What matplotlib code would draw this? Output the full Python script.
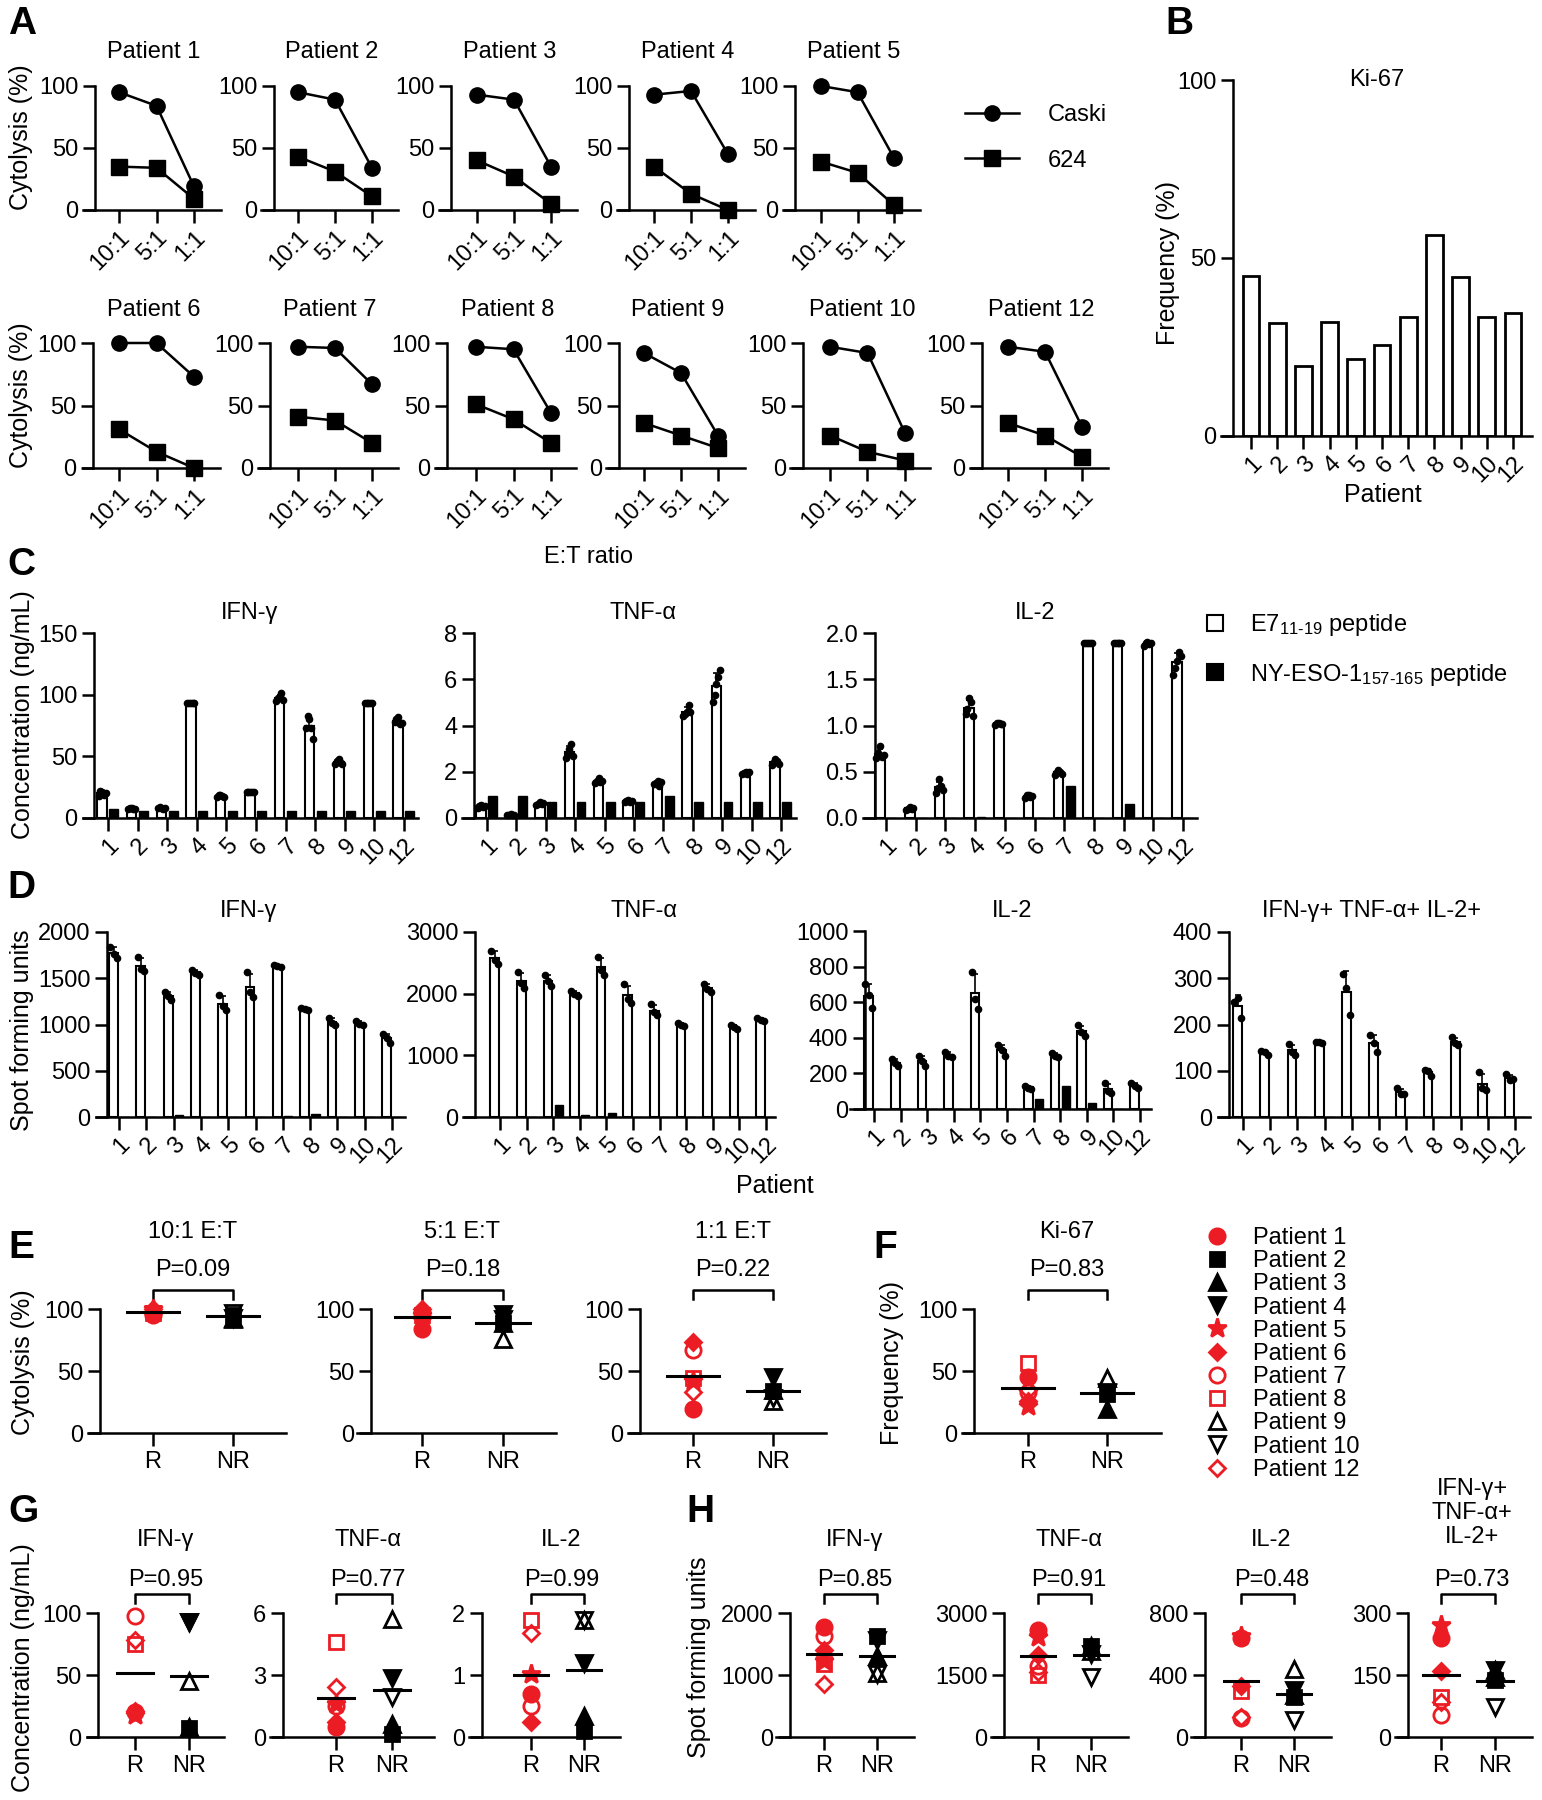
import numpy as np
import matplotlib
matplotlib.use("Agg")
import matplotlib.pyplot as plt
from matplotlib.lines import Line2D

W, H = 1542, 1800
RED = "#ec1c24"
FS = 17

plt.rcParams["font.family"] = ["Liberation Sans", "DejaVu Sans"]
plt.rcParams["mathtext.default"] = "regular"
plt.rcParams["axes.linewidth"] = 1.8

# ---------- data ----------
PATIENTS = ["1", "2", "3", "4", "5", "6", "7", "8", "9", "10", "12"]
RATIOS = ["10:1", "5:1", "1:1"]
RESPONDER = [True, False, False, False, True, True, True, True, False, False, True]
MARKERS = ["o", "s", "^", "v", "*", "D", "o", "s", "^", "v", "D"]
FILLED = [True, True, True, True, True, True, False, False, False, False, False]

# cytolysis (%) at 10:1, 5:1, 1:1
CASKI = [[95, 84, 19], [95, 89, 34], [93, 89, 35], [93, 96, 45], [100, 95, 42],
         [100, 100, 73], [97, 96, 67], [97, 95, 44], [92, 76, 26], [97, 92, 28], [97, 93, 33]]
LINE624 = [[35, 34, 9], [43, 31, 11], [40, 27, 5], [35, 13, 0], [39, 30, 4],
           [31, 13, 0], [41, 38, 20], [51, 39, 20], [36, 26, 16], [26, 13, 6], [36, 26, 9]]

# Ki-67 frequency (%)
KI67 = [44.9, 31.8, 19.7, 32.0, 21.5, 25.7, 33.3, 56.4, 44.6, 33.3, 34.6]

# cytokine concentration (ng/mL), E7 replicates and NY-ESO-1 bar
C_IFNG_E7 = [[18, 22, 21, 19, 20], [7, 8, 8, 7, 7], [8, 9, 8, 7, 8], [93, 93, 93, 93, 93],
             [17, 19, 19, 18, 17], [21, 21, 21, 21, 21], [95, 97, 99, 101, 96],
             [73, 83, 80, 73, 64], [44, 46, 48, 45, 44], [93, 93, 93, 93, 93], [78, 80, 82, 76, 77]]
C_IFNG_NY = [7, 6, 6, 6, 6, 6, 6, 6, 6, 6, 6]
C_TNF_E7 = [[0.45, 0.50, 0.55, 0.48, 0.52], [0.12, 0.15, 0.18, 0.15, 0.14],
            [0.58, 0.62, 0.68, 0.60, 0.64], [2.6, 2.8, 3.0, 3.2, 2.7],
            [1.5, 1.6, 1.75, 1.55, 1.6], [0.70, 0.72, 0.78, 0.70, 0.74],
            [1.45, 1.5, 1.6, 1.4, 1.55], [4.4, 4.5, 4.6, 4.9, 4.6],
            [5.0, 5.3, 5.8, 6.1, 6.4], [1.9, 1.95, 2.0, 1.92, 1.98], [2.3, 2.4, 2.55, 2.45, 2.35]]
C_TNF_NY = [0.95, 0.95, 0.7, 0.7, 0.7, 0.7, 0.95, 0.7, 0.7, 0.7, 0.7]
C_IL2_E7 = [[0.65, 0.70, 0.78, 0.66, 0.68], [0.09, 0.10, 0.12, 0.10, 0.11],
            [0.27, 0.32, 0.42, 0.35, 0.30], [1.12, 1.18, 1.30, 1.25, 1.10],
            [1.01, 1.03, 1.03, 1.02, 1.02], [0.22, 0.25, 0.25, 0.23, 0.24],
            [0.47, 0.49, 0.52, 0.50, 0.48], [1.89, 1.89, 1.89, 1.89, 1.89],
            [1.89, 1.89, 1.89, 1.89, 1.89], [1.86, 1.89, 1.90, 1.88, 1.89],
            [1.55, 1.62, 1.70, 1.80, 1.75]]
C_IL2_NY = [0, 0, 0, 0.01, 0, 0, 0.35, 0, 0.15, 0, 0]

# ELISpot spot forming units, E7 replicates and NY-ESO-1 bar
D_IFNG_E7 = [[1840, 1760, 1720], [1730, 1600, 1580], [1350, 1310, 1260], [1590, 1560, 1540],
             [1320, 1200, 1160], [1570, 1350, 1300], [1640, 1630, 1620], [1180, 1170, 1160],
             [1070, 1020, 1000], [1040, 1010, 990], [900, 850, 800]]
D_IFNG_NY = [0, 0, 25, 0, 0, 0, 10, 30, 0, 0, 0]
D_TNF_E7 = [[2700, 2550, 2480], [2350, 2180, 2100], [2300, 2200, 2130], [2050, 2000, 1970],
            [2600, 2380, 2300], [2150, 1920, 1850], [1830, 1700, 1650], [1530, 1500, 1480],
            [2160, 2080, 2020], [1490, 1460, 1430], [1600, 1580, 1560]]
D_TNF_NY = [0, 0, 200, 30, 60, 0, 0, 0, 0, 0, 0]
D_IL2_E7 = [[700, 640, 570], [280, 260, 240], [300, 270, 240], [320, 300, 290],
            [770, 620, 560], [360, 330, 300], [130, 120, 115], [315, 295, 290],
            [470, 430, 410], [145, 100, 90], [145, 130, 120]]
D_IL2_NY = [0, 0, 0, 0, 0, 0, 55, 130, 35, 0, 0]
D_POLY_E7 = [[248, 258, 215], [142, 140, 135], [158, 140, 135], [163, 163, 160],
             [310, 280, 220], [178, 160, 140], [62, 50, 50], [102, 100, 88],
             [172, 160, 155], [97, 62, 58], [92, 80, 82]]
D_POLY_NY = [0, 0, 0, 0, 0, 0, 0, 0, 0, 0, 0]

fig = plt.figure(figsize=(W / 100, H / 100), dpi=100)


def px_axes(xs, ya, t0, t1, xe, yt, yb, n, ylim, yticks, ytl=None):
    # axes placed in pixel units: x-axis start, y-axis, first/last tick, x-axis end
    ax = fig.add_axes([xs / W, 1 - yb / H, (xe - xs) / W, (yb - yt) / H])
    k = (n - 1) / (t1 - t0)
    ax.set_xlim((xs - t0) * k, (xe - t0) * k)
    ax.set_ylim(*ylim)
    ax.spines["left"].set_position(("data", (ya - t0) * k))
    ax.spines["top"].set_visible(False)
    ax.spines["right"].set_visible(False)
    ax.set_yticks(yticks)
    if ytl is not None:
        ax.set_yticklabels(ytl)
    ax.set_xticks(np.arange(n))
    ax.tick_params(direction="out", length=9, width=1.8, labelsize=FS, pad=3)
    ax.patch.set_alpha(0)
    return ax


def txt(x, y, s, size=FS, **kw):
    kw.setdefault("ha", "center")
    kw.setdefault("va", "center")
    fig.text(x / W, 1 - y / H, s, fontsize=size, **kw)


def bar_panel(box, yt, yb, ylim, yticks, ytl, e7, ny):
    ax = px_axes(*box, yt, yb, 11, ylim, yticks, ytl)
    x = np.arange(11)
    means = np.array([np.mean(r) for r in e7])
    sds = np.array([np.std(r, ddof=1) for r in e7])
    ax.bar(x - 0.2, means, 0.32, color="white", edgecolor="k", lw=1.5, zorder=2)
    ax.bar(x + 0.2, ny, 0.3, color="k", edgecolor="k", lw=1.0, zorder=2)
    ax.errorbar(x - 0.2, means, yerr=[np.zeros(11), sds], fmt="none", ecolor="k",
                elinewidth=1.2, capsize=2.5, capthick=1.2, zorder=3)
    for i, reps in enumerate(e7):
        offs = np.linspace(-0.12, 0.12, len(reps))
        ax.plot(x[i] - 0.2 + offs, reps, "o", color="k", ms=4.5, zorder=4, clip_on=False)
    ax.set_xticklabels(PATIENTS, rotation=45, ha="right", rotation_mode="anchor")
    return ax


MSIZE = {"o": 11, "s": 10, "^": 11, "v": 11, "*": 14, "D": 8}


def marker_style(i):
    col = RED if RESPONDER[i] else "k"
    return dict(ls="none", marker=MARKERS[i], ms=MSIZE[MARKERS[i]],
                mfc=col if FILLED[i] else "none", mec=col, mew=2)


def scatter_panel(box, yt, yb, ylim, yticks, values):
    ax = px_axes(*box, yt, yb, 2, ylim, yticks)
    ax.set_xticklabels(["R", "NR"])
    ax.tick_params(axis="x", pad=4)
    for i, v in enumerate(values):
        g = 0 if RESPONDER[i] else 1
        ax.plot(g, v, clip_on=False, zorder=4, **marker_style(i))
    for g in (0, 1):
        vals = [v for i, v in enumerate(values) if RESPONDER[i] == (g == 0)]
        m = np.mean(vals)
        ax.plot([g - 0.33, g + 0.33], [m, m], color="k", lw=2.2, zorder=5, clip_on=False)
    top = ylim[1]
    ax.plot([0, 0, 1, 1], [top * 1.08, top * 1.15, top * 1.15, top * 1.08],
            color="k", lw=1.8, clip_on=False)
    return ax


# ---------- A ----------
A_TOP = [(83, 95, 119, 194, 221), (261, 274, 298, 372, 398), (439, 451, 477, 551, 577),
         (617, 629, 654, 728, 755), (783, 795, 821, 894, 920)]
A_BOT = [(83, 93, 119, 194, 220), (258, 270, 298, 372, 398), (435, 447, 476, 551, 576),
         (606, 619, 644, 718, 745), (790, 803, 830, 905, 930), (970, 982, 1008, 1082, 1108)]
rows = [(A_TOP, 86, 210, 52, [0, 1, 2, 3, 4]), (A_BOT, 343, 468, 310, [5, 6, 7, 8, 9, 10])]
for boxes, yt, yb, ty, idx in rows:
    for box, i in zip(boxes, idx):
        ax = px_axes(*box, yt, yb, 3, (0, 100), [0, 50, 100])
        ax.plot(range(3), CASKI[i], "-o", color="k", lw=1.8, ms=11, clip_on=False, zorder=3)
        ax.plot(range(3), LINE624[i], "-s", color="k", lw=1.8, ms=11, clip_on=False, zorder=3)
        ax.set_xticklabels(RATIOS, rotation=45, ha="right", rotation_mode="anchor")
        txt((box[0] + box[4]) / 2 + 2, ty, "Patient " + PATIENTS[i])
txt(21, 137, "Cytolysis (%)", size=18, rotation=90)
txt(21, 395, "Cytolysis (%)", size=18, rotation=90)
txt(589, 557, "E:T ratio")
a_handles = [Line2D([], [], color="k", lw=1.8, marker="o", ms=11),
             Line2D([], [], color="k", lw=1.8, marker="s", ms=11)]
fig.legend(a_handles, ["Caski", "624"], loc="upper left", bbox_to_anchor=(965 / W, 1 - 104 / H),
           frameon=False, fontsize=FS, handlelength=2.3, handletextpad=1.2, labelspacing=1.0,
           borderpad=0, borderaxespad=0)

# ---------- B ----------
ax = px_axes(1221, 1233, 1251, 1513, 1532, 80, 436, 11, (0, 100), [0, 50, 100])
ax.bar(np.arange(11), KI67, 0.64, color="white", edgecolor="k", lw=2)
ax.set_xticklabels(PATIENTS, rotation=45, ha="right", rotation_mode="anchor")
txt(1377, 80, "Ki-67")
txt(1383, 495, "Patient", size=18)
txt(1168, 263, "Frequency (%)", size=18, rotation=90)

# ---------- C ----------
bar_panel((83, 94, 108, 404, 418), 633, 818, (0, 150), [0, 50, 100, 150], None, C_IFNG_E7, C_IFNG_NY)
bar_panel((462, 474, 487, 781, 796), 633, 818, (0, 8), [0, 2, 4, 6, 8], None, C_TNF_E7, C_TNF_NY)
bar_panel((863, 875, 886, 1183, 1197), 633, 818, (0, 2), [0, 0.5, 1, 1.5, 2],
          ["0.0", "0.5", "1.0", "1.5", "2.0"], C_IL2_E7, C_IL2_NY)
txt(250, 613, "IFN-γ")
txt(643, 613, "TNF-α")
txt(1035, 613, "IL-2")
txt(23, 715, "Concentration (ng/mL)", size=18, rotation=90)
c_handles = [Line2D([], [], ls="none", marker="s", ms=12, mfc="white", mec="k", mew=1.5),
             Line2D([], [], ls="none", marker="s", ms=12, mfc="k", mec="k", mew=1.5)]
fig.legend(c_handles, ["E7$_{11\u201019}$ peptide", "NY-ESO-1$_{157\u2010165}$ peptide"],
           loc="upper left", bbox_to_anchor=(1203 / W, 1 - 612 / H), frameon=False, fontsize=FS,
           handlelength=1.0, handletextpad=1.0, labelspacing=1.0, borderpad=0, borderaxespad=0)

# ---------- D ----------
bar_panel((96, 107, 119, 392, 405), 932, 1117, (0, 2000), [0, 500, 1000, 1500, 2000], None,
          D_IFNG_E7, D_IFNG_NY)
bar_panel((463, 475, 500, 766, 775), 932, 1117, (0, 3000), [0, 1000, 2000, 3000], None,
          D_TNF_E7, D_TNF_NY)
bar_panel((850, 865, 874, 1140, 1151), 931, 1109, (0, 1000), [0, 200, 400, 600, 800, 1000], None,
          D_IL2_E7, D_IL2_NY)
bar_panel((1218, 1229, 1243, 1515, 1530), 932, 1117, (0, 400), [0, 100, 200, 300, 400], None,
          D_POLY_E7, D_POLY_NY)
txt(249, 911, "IFN-γ")
txt(644, 911, "TNF-α")
txt(1012, 911, "IL-2")
txt(1372, 911, "IFN-γ+ TNF-α+ IL-2+")
txt(22, 1030, "Spot forming units", size=18, rotation=90)
txt(775, 1186, "Patient", size=18)

# ---------- E / F ----------
E_BOXES = [(88, 100, 153, 233, 286), (357, 371, 422, 503, 556), (628, 640, 693, 773, 826)]
E_TITLES = ["10:1 E:T", "5:1 E:T", "1:1 E:T"]
E_P = ["P=0.09", "P=0.18", "P=0.22"]
for j, box in enumerate(E_BOXES):
    scatter_panel(box, 1309, 1433, (0, 100), [0, 50, 100], [row[j] for row in CASKI])
    cx = (box[2] + box[3]) / 2
    txt(cx, 1232, E_TITLES[j])
    txt(cx, 1270, E_P[j])
txt(23, 1362, "Cytolysis (%)", size=18, rotation=90)

scatter_panel((962, 974, 1028, 1107, 1161), 1309, 1433, (0, 100), [0, 50, 100], KI67)
txt(1067, 1232, "Ki-67")
txt(1067, 1270, "P=0.83")
txt(892, 1363, "Frequency (%)", size=18, rotation=90)

f_handles = [Line2D([], [], **marker_style(i)) for i in range(11)]
fig.legend(f_handles, ["Patient " + p for p in PATIENTS], loc="upper left",
           bbox_to_anchor=(1203 / W, 1 - 1227 / H), frameon=False, fontsize=FS,
           handlelength=1.2, handletextpad=0.9, labelspacing=0.05, borderpad=0, borderaxespad=0)

# ---------- G ----------
G_BOXES = [(87, 98, 135, 189, 224), (270, 283, 336, 392, 434), (469, 482, 531, 584, 620)]
G_SETS = [(C_IFNG_E7, (0, 100), [0, 50, 100], "IFN-γ", "P=0.95"),
          (C_TNF_E7, (0, 6), [0, 3, 6], "TNF-α", "P=0.77"),
          (C_IL2_E7, (0, 2), [0, 1, 2], "IL-2", "P=0.99")]
for box, (reps, ylim, yticks, title, p) in zip(G_BOXES, G_SETS):
    scatter_panel(box, 1613, 1737, ylim, yticks, [np.mean(r) for r in reps])
    cx = (box[2] + box[3]) / 2
    txt(cx + 4, 1540, title)
    txt(cx + 4, 1580, p)
txt(23, 1668, "Concentration (ng/mL)", size=18, rotation=90)

# ---------- H ----------
H_BOXES = [(776, 790, 824, 877, 914), (991, 1004, 1038, 1091, 1128),
           (1191, 1205, 1241, 1294, 1331), (1395, 1408, 1441, 1495, 1532)]
H_SETS = [(D_IFNG_E7, (0, 2000), [0, 1000, 2000], "IFN-γ", "P=0.85"),
          (D_TNF_E7, (0, 3000), [0, 1500, 3000], "TNF-α", "P=0.91"),
          (D_IL2_E7, (0, 800), [0, 400, 800], "IL-2", "P=0.48"),
          (D_POLY_E7, (0, 300), [0, 150, 300], "IFN-γ+\nTNF-α+\nIL-2+", "P=0.73")]
for box, (reps, ylim, yticks, title, p) in zip(H_BOXES, H_SETS):
    scatter_panel(box, 1613, 1737, ylim, yticks, [np.mean(r) for r in reps])
    cx = (box[2] + box[3]) / 2
    if "\n" in title:
        txt(cx + 4, 1513, title, linespacing=1.1)
    else:
        txt(cx + 4, 1540, title)
    txt(cx + 4, 1580, p)
txt(699, 1657, "Spot forming units", size=18, rotation=90)

# ---------- panel letters ----------
for letter, x, y in [("A", 22, 24), ("B", 1179, 24), ("C", 21, 565), ("D", 21, 888),
                     ("E", 21, 1248), ("F", 885, 1248), ("G", 23, 1512), ("H", 700, 1512)]:
    txt(x, y, letter, size=28, weight="bold")

fig.savefig("out.png", dpi=100)
